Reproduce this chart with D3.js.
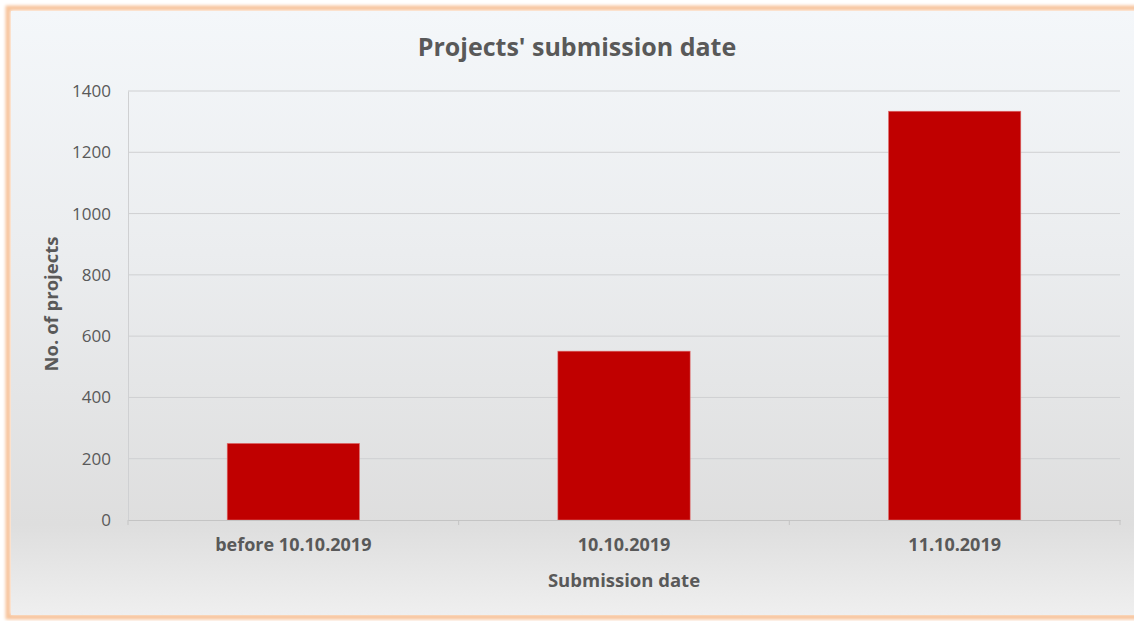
<!DOCTYPE html>
<html lang="en">
<head>
    <meta charset="UTF-8">
    <title>Projects' submission date</title>
    <script src="https://d3js.org/d3.v7.min.js"></script>
    <style>
        body {
            margin: 0;
            background: #fff;
            font-family: "Open Sans", "Noto Sans", Arial, sans-serif;
        }
        #chart svg {
            display: block;
        }
        .tick text {
            fill: #595959;
        }
    </style>
</head>
<body>
    <div id="chart"></div>
    <script>
        // Data
        const categories = ["before 10.10.2019", "10.10.2019", "11.10.2019"];
        const projects = [250, 551, 1334];
        const yTicks = [0, 200, 400, 600, 800, 1000, 1200, 1400];

        const width = 1134;
        const height = 621;
        const margin = { top: 91, right: 14, bottom: 101, left: 128 };

        const svg = d3.select("#chart")
            .append("svg")
            .attr("width", width)
            .attr("height", height);

        const defs = svg.append("defs");

        // background gradient of the chart area
        const grad = defs.append("linearGradient")
            .attr("id", "bg")
            .attr("x1", 0).attr("y1", 0)
            .attr("x2", 0).attr("y2", 1);
        grad.append("stop").attr("offset", "0%").attr("stop-color", "#f4f7fa");
        grad.append("stop").attr("offset", "40%").attr("stop-color", "#ebedef");
        grad.append("stop").attr("offset", "85%").attr("stop-color", "#dedede");
        grad.append("stop").attr("offset", "100%").attr("stop-color", "#efefef");

        const blur = defs.append("filter").attr("id", "glow")
            .attr("x", "-5%").attr("y", "-5%").attr("width", "110%").attr("height", "110%");
        blur.append("feGaussianBlur").attr("stdDeviation", 1.5);

        // orange frame (right side runs off the picture)
        svg.append("rect")
            .attr("x", 8).attr("y", 8)
            .attr("width", 1160).attr("height", 609)
            .attr("fill", "none")
            .attr("stroke", "#f7c49c")
            .attr("stroke-width", 5)
            .attr("filter", "url(#glow)");

        svg.append("rect")
            .attr("x", 11).attr("y", 11)
            .attr("width", 1150).attr("height", 604)
            .attr("fill", "url(#bg)");

        const x = d3.scaleBand()
            .domain(categories)
            .range([margin.left, width - margin.right])
            .paddingInner(0.6)
            .paddingOuter(0.3);

        const xBand = d3.scaleBand()
            .domain(categories)
            .range([margin.left, width - margin.right])
            .padding(0);

        const y = d3.scaleLinear()
            .domain([0, 1400])
            .range([height - margin.bottom, margin.top]);

        // gridlines
        svg.append("g")
            .selectAll("line")
            .data(yTicks.filter(d => d > 0))
            .enter().append("line")
            .attr("x1", margin.left)
            .attr("x2", width - margin.right)
            .attr("y1", d => y(d))
            .attr("y2", d => y(d))
            .attr("stroke", "#cfd0d2")
            .attr("stroke-width", 1);

        // y axis
        const yAxis = svg.append("g")
            .attr("transform", `translate(${margin.left},0)`)
            .call(d3.axisLeft(y).tickValues(yTicks).tickFormat(d3.format("d")).tickSize(0).tickPadding(17));
        yAxis.select(".domain").attr("stroke", "#cfd0d2");
        yAxis.selectAll("text")
            .style("font-size", "17px")
            .style("font-family", "'Open Sans', sans-serif");

        // bars
        svg.selectAll(".bar")
            .data(projects)
            .enter().append("rect")
            .attr("class", "bar")
            .attr("x", (d, i) => x(categories[i]))
            .attr("y", d => y(d))
            .attr("width", x.bandwidth())
            .attr("height", d => y(0) - y(d))
            .attr("fill", "#c00000")
            .attr("stroke", "#e07070")
            .attr("stroke-width", 0.6);

        // x axis
        const xAxis = svg.append("g")
            .attr("transform", `translate(0,${height - margin.bottom})`)
            .call(d3.axisBottom(x).tickSize(0).tickPadding(18));
        xAxis.select(".domain").attr("stroke", "#c4c4c4");
        xAxis.selectAll("text")
            .style("font-size", "18px")
            .style("font-weight", "bold")
            .style("font-family", "'Open Sans', sans-serif");

        // category boundary ticks
        svg.append("g")
            .selectAll("line")
            .data(categories.concat(["end"]))
            .enter().append("line")
            .attr("x1", (d, i) => i < categories.length ? xBand(d) : width - margin.right)
            .attr("x2", (d, i) => i < categories.length ? xBand(d) : width - margin.right)
            .attr("y1", y(0))
            .attr("y2", y(0) + 5)
            .attr("stroke", "#c4c4c4");

        // title
        svg.append("text")
            .attr("x", 577)
            .attr("y", 56)
            .attr("text-anchor", "middle")
            .style("font-size", "25px")
            .style("font-weight", "bold")
            .style("fill", "#595959")
            .text("Projects' submission date");

        // axis titles
        svg.append("text")
            .attr("x", (margin.left + width - margin.right) / 2)
            .attr("y", 587)
            .attr("text-anchor", "middle")
            .style("font-size", "18.5px")
            .style("font-weight", "bold")
            .style("fill", "#595959")
            .text("Submission date");

        svg.append("text")
            .attr("transform", "translate(58,304) rotate(-90)")
            .attr("text-anchor", "middle")
            .style("font-size", "18.5px")
            .style("font-weight", "bold")
            .style("fill", "#595959")
            .text("No. of projects");
    </script>
</body>
</html>
